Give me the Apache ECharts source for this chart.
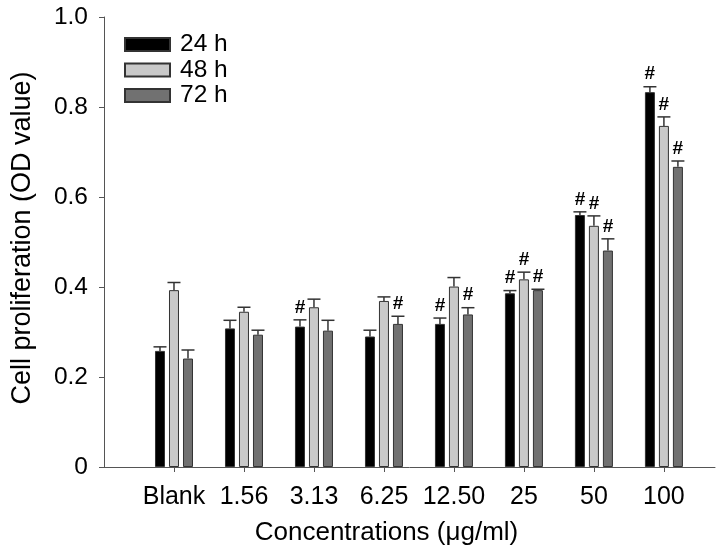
<!DOCTYPE html>
<html>
<head>
<meta charset="utf-8">
<script src="https://cdn.jsdelivr.net/npm/echarts@6/dist/echarts.min.js"></script>
<style>html,body{margin:0;padding:0;background:#fff}#c{width:724px;height:555px}</style>
</head>
<body>
<div id="c"></div>
<script>
const categories = ['Blank', '1.56', '3.13', '6.25', '12.50', '25', '50', '100'];
const seriesNames = ['24 h', '48 h', '72 h'];
const h24 = [0.258, 0.308, 0.312, 0.290, 0.318, 0.386, 0.560, 0.833];
const h24Err = [0.009, 0.018, 0.015, 0.014, 0.013, 0.006, 0.007, 0.012];
const h48 = [0.393, 0.345, 0.355, 0.369, 0.401, 0.417, 0.536, 0.758];
const h48Err = [0.017, 0.010, 0.018, 0.009, 0.020, 0.016, 0.022, 0.020];
const h72 = [0.241, 0.294, 0.303, 0.318, 0.339, 0.393, 0.481, 0.667];
const h72Err = [0.019, 0.010, 0.023, 0.017, 0.015, 0.002, 0.026, 0.013];
const h24Sig = [0, 0, 1, 0, 1, 1, 1, 1];
const h48Sig = [0, 0, 0, 0, 0, 1, 1, 1];
const h72Sig = [0, 0, 0, 1, 1, 1, 1, 1];
const yTickLabels = ['0', '0.2', '0.4', '0.6', '0.8', '1.0'];

const FONT = "'Liberation Sans', Arial, sans-serif";
const colors = ['#000000', '#c9c9c9', '#717171'];
const means = [h24, h48, h72];
const errs = [h24Err, h48Err, h72Err];
const sigs = [h24Sig, h48Sig, h72Sig];
const BAR_W = 10, BAR_STEP = 14;
const catPos = categories.map((c, i) => i + 1);

const chart = echarts.init(document.getElementById('c'), null, {renderer: 'canvas'});

const barSeries = seriesNames.map((name, s) => ({
  name: name,
  type: 'bar',
  barWidth: BAR_W,
  barGap: '40%',
  itemStyle: {color: colors[s], borderColor: '#333', borderWidth: 1},
  emphasis: {disabled: true},
  data: catPos.map((x, i) => [x, means[s][i]])
}));

const errSeries = seriesNames.map((name, s) => ({
  type: 'custom',
  silent: true,
  z: 5,
  data: catPos.map((x, i) => [x, means[s][i], means[s][i] + errs[s][i], sigs[s][i]]),
  renderItem: function (params, api) {
    const base = api.coord([api.value(0), api.value(1)]);
    const cap = api.coord([api.value(0), api.value(2)]);
    const px = base[0] + (s - 1) * BAR_STEP;
    const children = [
      {type: 'line', shape: {x1: px, y1: base[1], x2: px, y2: cap[1]}, style: {stroke: '#333', lineWidth: 1.5}},
      {type: 'line', shape: {x1: px - 6.5, y1: cap[1], x2: px + 6.5, y2: cap[1]}, style: {stroke: '#333', lineWidth: 1.5}}
    ];
    if (api.value(3)) {
      children.push({type: 'text', style: {text: '#', x: px, y: cap[1] - 3, align: 'center', verticalAlign: 'bottom', font: 'bold 19px ' + FONT, fill: '#000'}});
    }
    return {type: 'group', children: children};
  }
}));

chart.setOption({
  animation: false,
  backgroundColor: '#fff',
  textStyle: {fontFamily: FONT},
  grid: {left: 104, right: 9, top: 17, bottom: 88, containLabel: false},
  legend: {
    orient: 'vertical', left: 124, top: 32, padding: 0,
    itemWidth: 45, itemHeight: 13, itemGap: 0.5,
    icon: 'rect',
    data: seriesNames,
    textStyle: {fontSize: 24.5, color: '#000', fontFamily: FONT, padding: [0, 0, 0, 5]}
  },
  xAxis: {
    type: 'value', min: 0, max: 8.73, interval: 1,
    splitLine: {show: false},
    axisLine: {show: true, lineStyle: {color: '#555', width: 1}},
    axisTick: {show: true, length: 5, lineStyle: {color: '#555'}, customValues: catPos},
    axisLabel: {customValues: catPos, margin: 18, fontSize: 25, color: '#000', fontFamily: FONT,
      formatter: v => categories[Math.round(v) - 1] || ''},
    name: 'Concentrations (\u03bcg/ml)', nameLocation: 'middle', nameGap: 53,
    nameTextStyle: {fontSize: 26, color: '#000', fontFamily: FONT, padding: [0, 46, 0, 0]}
  },
  yAxis: {
    type: 'value', min: 0, max: 1, interval: 0.2,
    splitLine: {show: false},
    axisLine: {show: true, lineStyle: {color: '#555', width: 1}},
    axisTick: {show: true, length: 5, lineStyle: {color: '#555'}},
    axisLabel: {margin: 16, fontSize: 24.5, color: '#000', fontFamily: FONT,
      formatter: (v) => yTickLabels[Math.round(v / 0.2)]},
    name: 'Cell proliferation (OD value)', nameLocation: 'middle', nameGap: 68, nameRotate: 90,
    nameTextStyle: {fontSize: 27, color: '#000', fontFamily: FONT, padding: [0, 0, 0, 8]}
  },
  series: barSeries.concat(errSeries)
});
</script>
</body>
</html>
